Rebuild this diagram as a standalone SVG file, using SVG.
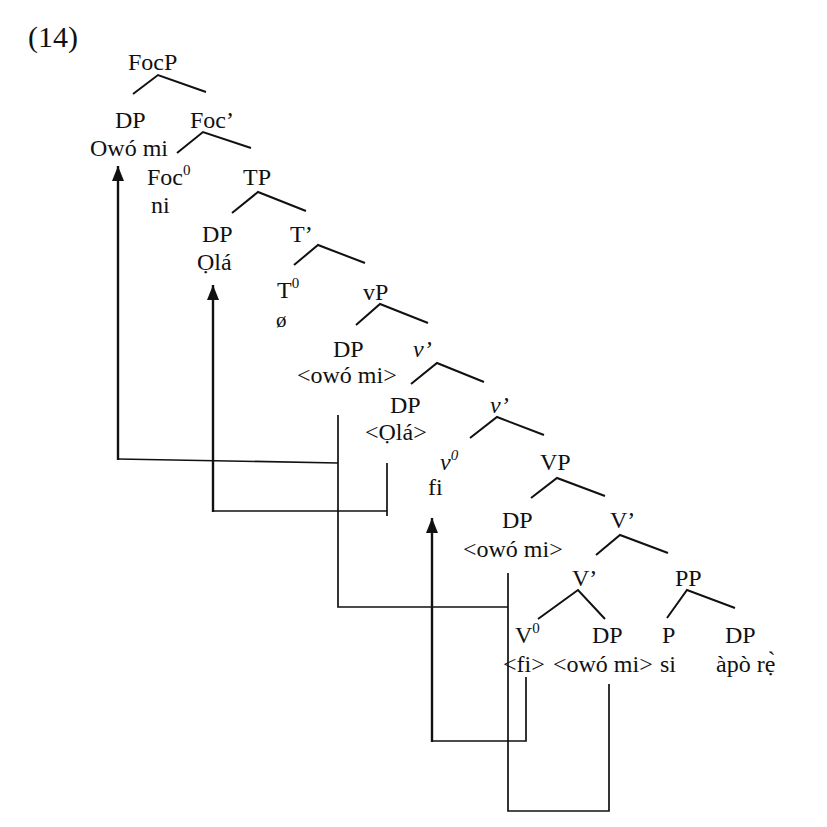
<svg xmlns="http://www.w3.org/2000/svg" width="827" height="827" viewBox="0 0 827 827">
<defs>
<style>
text{font-family:"Liberation Serif","Times New Roman",serif;font-size:24px;fill:#111}
.it{font-style:italic}
.sup{font-size:15px}
.br{stroke:#111;stroke-width:2;fill:none}
.cn{stroke:#111;stroke-width:1.7;fill:none}
.ar{stroke:#111;stroke-width:2.4;fill:none}
</style>
<marker id="ah" viewBox="0 0 15 12" refX="15" refY="6" markerWidth="15" markerHeight="12" markerUnits="userSpaceOnUse" orient="auto">
<path d="M0,0 L15,6 L0,12 z" fill="#111"/>
</marker>
</defs>
<rect width="827" height="827" fill="#fff"/>
<text x="28" y="47" style="font-size:30px">(14)</text>

<g id="FocP"><text x="128" y="70">FocP</text><path class="br" d="M133,94 L158,75 L206,92"/></g>
<g id="DP1"><text x="115" y="128">DP</text><text x="90" y="156">Owó mi</text></g>
<g id="Focbar"><text x="190" y="128">Foc’</text><path class="br" d="M177,153 L203,132 L251,148"/></g>
<g id="Foc0"><text x="147" y="185">Foc<tspan class="sup" dy="-10">0</tspan></text><text x="151" y="213">ni</text></g>
<g id="TP"><text x="243" y="185">TP</text><path class="br" d="M232,213 L258,192 L306,211"/></g>
<g id="DP2"><text x="202" y="242">DP</text><text x="197" y="270">Ọlá</text></g>
<g id="Tbar"><text x="290" y="242">T’</text><path class="br" d="M294,265 L318,245 L365,263"/></g>
<g id="T0"><text x="277" y="298">T<tspan class="sup" dy="-10">0</tspan></text><text x="276" y="327" style="font-size:21px">ø</text></g>
<g id="vP"><text x="363" y="300">vP</text><path class="br" d="M356,325 L380,304 L428,323"/></g>
<g id="DP3"><text x="333" y="357">DP</text><text x="297" y="383">&lt;owó mi&gt;</text></g>
<g id="vbar1"><text x="413" y="357" class="it">v’</text><path class="br" d="M411,384 L437,363 L484,382"/></g>
<g id="DP4"><text x="390" y="413">DP</text><text x="365" y="440">&lt;Ọlá&gt;</text></g>
<g id="vbar2"><text x="490" y="413" class="it">v’</text><path class="br" d="M470,438 L497,417 L544,435"/></g>
<g id="v0"><text x="440" y="470" class="it">v<tspan class="sup" dy="-10">0</tspan></text><text x="428" y="495">fi</text></g>
<g id="VP"><text x="540" y="470">VP</text><path class="br" d="M531,498 L557,478 L605,496"/></g>
<g id="DP5"><text x="502" y="528">DP</text><text x="463" y="557">&lt;owó mi&gt;</text></g>
<g id="Vbar1"><text x="610" y="528">V’</text><path class="br" d="M596,555 L620,535 L668,553"/></g>
<g id="Vbar2"><text x="572" y="586">V’</text><path class="br" d="M538,619 L578,590 L605,619"/></g>
<g id="PP"><text x="675" y="586">PP</text><path class="br" d="M667,618 L687,590 L735,608"/></g>
<g id="V0"><text x="515" y="643">V<tspan class="sup" dy="-10">0</tspan></text><text x="503" y="672">&lt;fi&gt;</text></g>
<g id="DP6"><text x="592" y="643">DP</text><text x="553" y="672">&lt;owó mi&gt;</text></g>
<g id="P"><text x="662" y="643">P</text><text x="660" y="672">si</text></g>
<g id="DP7"><text x="725" y="643">DP</text><text x="716" y="672">àpò rẹ̀</text></g>

<g id="connectors">
<path class="cn" d="M338,415 V607 H508"/>
<path class="cn" d="M508,573 V811 H609 V684"/>
<path class="cn" d="M338,463 L118,459"/>
<path class="ar" d="M118,460 V166" marker-end="url(#ah)"/>
<path class="cn" d="M387,463 V516 M387,511 H213"/>
<path class="ar" d="M213,512 V285" marker-end="url(#ah)"/>
<path class="cn" d="M526,677 V741 H432"/>
<path class="ar" d="M432,742 V518" marker-end="url(#ah)"/>
</g>
</svg>
